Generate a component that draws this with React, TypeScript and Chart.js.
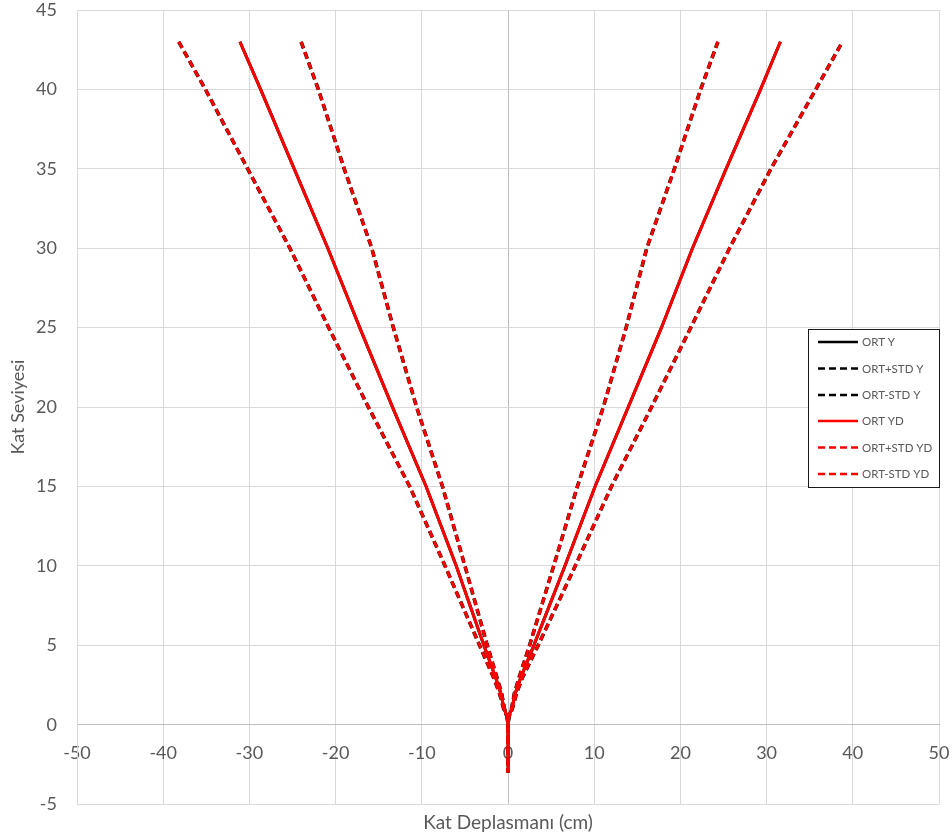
import React, { useEffect, useRef } from "react";
import { Chart, registerables } from "chart.js";

Chart.register(...registerables);

// Floor levels (Kat Seviyesi), ascending
const levels = [-3, -2, -1, 0, 0.5, 1, 2, 3, 5, 10, 15, 20, 25, 30, 35, 40, 43];

// Displacements (cm) for each level, positive and negative branches
const ortRight = [0, 0, 0, 0, 0.1, 0.45, 0.85, 1.5, 3.0, 6.6, 10.1, 13.95, 17.8, 21.4, 25.3, 29.3, 31.6];
const ortLeft = [0, 0, 0, 0, -0.1, -0.45, -0.85, -1.45, -2.8, -6.0, -9.5, -13.4, -17.2, -20.9, -24.8, -28.7, -31.1];
const ortPlusRight = [0, 0, 0, 0, 0.1, 0.5, 1.0, 1.7, 3.5, 7.8, 12.0, 16.65, 21.2, 25.7, 30.5, 35.7, 38.8];
const ortPlusLeft = [0, 0, 0, 0, -0.1, -0.5, -1.0, -1.7, -3.3, -7.3, -11.4, -16.2, -20.8, -25.3, -30.2, -35.1, -38.2];
const ortMinusRight = [0, 0, 0, 0, 0.1, 0.4, 0.75, 1.3, 2.5, 5.3, 8.05, 11.06, 13.7, 16.1, 19.3, 22.35, 24.35];
const ortMinusLeft = [0, 0, 0, 0, -0.1, -0.4, -0.75, -1.3, -2.4, -5.0, -7.6, -10.6, -13.3, -15.8, -19.0, -22.0, -24.0];

const seriesNames = ["ORT Y", "ORT+STD Y", "ORT-STD Y", "ORT YD", "ORT+STD YD", "ORT-STD YD"];

const FONT = "Lato, 'Open Sans', sans-serif";
const TEXT = "#595959";

function buildPath(left: number[], right: number[]) {
  const pts: { x: number; y: number }[] = [];
  for (let i = levels.length - 1; i >= 0; i--) pts.push({ x: left[i], y: levels[i] });
  for (let i = 0; i < levels.length; i++) pts.push({ x: right[i], y: levels[i] });
  return pts;
}

const legendPlugin = {
  id: "boxLegend",
  afterDraw(chart: any) {
    const ctx = chart.ctx;
    const x0 = 808.5, y0 = 329.5, w = 131, h = 158;
    ctx.save();
    ctx.fillStyle = "#ffffff";
    ctx.fillRect(x0, y0, w, h);
    ctx.strokeStyle = "#1a1a1a";
    ctx.lineWidth = 1;
    ctx.setLineDash([]);
    ctx.strokeRect(x0, y0, w, h);
    const rows = [342, 368.5, 395, 421, 447.5, 474];
    const colors = ["#000000", "#000000", "#000000", "#ff0000", "#ff0000", "#ff0000"];
    const dashed = [false, true, true, false, true, true];
    for (let i = 0; i < 6; i++) {
      ctx.beginPath();
      ctx.strokeStyle = colors[i];
      ctx.lineWidth = 2.5;
      ctx.lineCap = "butt";
      ctx.setLineDash(dashed[i] ? [7, 4] : []);
      ctx.moveTo(818, rows[i]);
      ctx.lineTo(858, rows[i]);
      ctx.stroke();
      ctx.setLineDash([]);
      ctx.fillStyle = TEXT;
      ctx.font = "11.5px " + FONT;
      ctx.textAlign = "left";
      ctx.textBaseline = "middle";
      ctx.fillText(seriesNames[i], 862, rows[i] + 0.5);
    }
    ctx.restore();
  },
};

export default function App() {
  const ref = useRef<HTMLCanvasElement>(null);
  useEffect(() => {
    if (!ref.current) return;
    const lefts = [ortLeft, ortPlusLeft, ortMinusLeft, ortLeft, ortPlusLeft, ortMinusLeft];
    const rights = [ortRight, ortPlusRight, ortMinusRight, ortRight, ortPlusRight, ortMinusRight];
    const datasets = seriesNames.map((name, i) => {
      const red = i >= 3;
      const dashed = i % 3 !== 0;
      return {
        label: name,
        data: buildPath(lefts[i], rights[i]),
        showLine: true,
        borderColor: red ? "#ff0000" : "#000000",
        backgroundColor: red ? "#ff0000" : "#000000",
        borderWidth: !red && dashed ? 3.6 : 3,
        borderDash: dashed ? [7, 4] : [],
        pointRadius: 0,
        pointHoverRadius: 0,
        tension: 0,
        order: red ? 1 : 2,
      };
    });
    const gridColor = (c: any) => (c.tick && c.tick.value === 0 ? "#bfbfbf" : "#d9d9d9");
    const chart = new Chart(ref.current, {
      type: "scatter",
      data: { datasets },
      plugins: [legendPlugin],
      options: {
        animation: false,
        responsive: false,
        layout: { padding: { left: 0, right: 13, top: 10, bottom: 0 } },
        plugins: {
          legend: { display: false },
          tooltip: { enabled: false },
          title: {
            display: true,
            position: "bottom",
            fullSize: false,
            text: "Kat Deplasmanı (cm)",
            color: TEXT,
            font: { family: FONT, size: 19, weight: "normal" },
            padding: { top: 7, bottom: 5 },
          },
        },
        scales: {
          x: {
            type: "linear",
            min: -50,
            max: 50,
            position: { y: 0 } as any,
            ticks: { stepSize: 10, padding: 18, color: TEXT, font: { family: FONT, size: 18 } },
            grid: { color: gridColor, drawTicks: false, lineWidth: 1 },
            border: { display: true, color: "#bfbfbf" },
            afterFit: (s: any) => {
              s.height = 0;
              s.paddingLeft = 0;
              s.paddingRight = 0;
            },
          },
          y: {
            type: "linear",
            min: -5,
            max: 45,
            position: "left",
            ticks: { stepSize: 5, padding: 20, color: TEXT, font: { family: FONT, size: 18 } },
            grid: { color: gridColor, drawTicks: false, lineWidth: 1 },
            border: { display: true, color: "#d9d9d9" },
            title: {
              display: true,
              text: "Kat Seviyesi",
              color: TEXT,
              font: { family: FONT, size: 18, weight: "normal" },
              padding: { top: 7, bottom: 0 },
            },
            afterFit: (s: any) => {
              s.width = 77;
              s.paddingTop = 0;
              s.paddingBottom = 0;
            },
          },
        },
      },
    });
    return () => chart.destroy();
  }, []);
  return (
    <div style={{ position: "fixed", left: 0, top: 0, width: 952, height: 839, background: "#fff" }}>
      <canvas ref={ref} width={952} height={839} style={{ display: "block" }} />
    </div>
  );
}
